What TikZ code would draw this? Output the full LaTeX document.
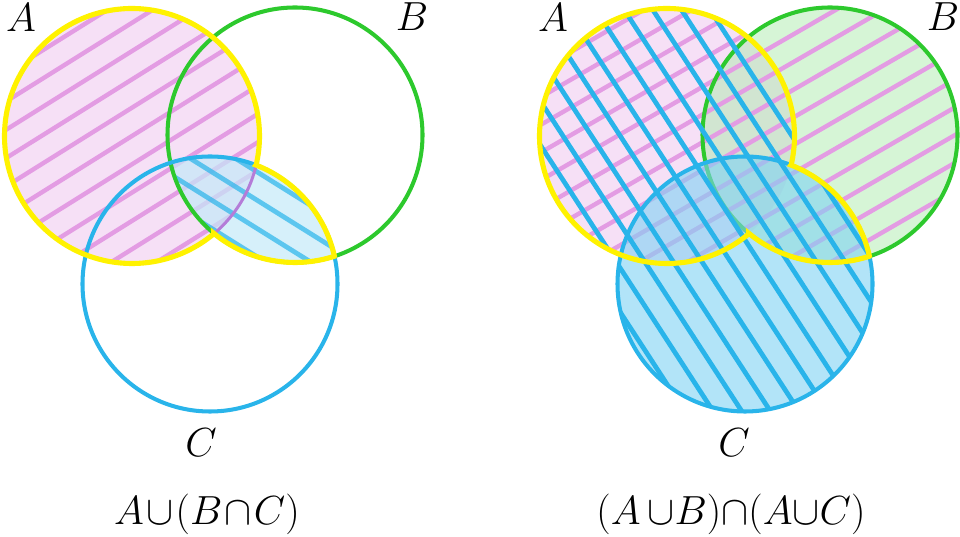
\documentclass[tikz,border=0pt]{standalone}
\usetikzlibrary{calc}
\definecolor{ylw}{HTML}{FFF200}
\definecolor{grn}{HTML}{2DC92D}
\definecolor{blu}{HTML}{29B4EA}
\definecolor{pnk}{HTML}{F6E0F6}
\definecolor{pln}{HTML}{E39CE3}
\definecolor{prp}{HTML}{B47CD8}
\definecolor{lens}{HTML}{C4E9F8}
\definecolor{gfl}{HTML}{ADEBAD}
\definecolor{cfl}{HTML}{7FD2F3}
\tikzset{
  ring/.style={line width=2.3pt},
  edge/.style={draw=ylw,line width=2.9pt},
  phat/.style={pln,line width=2.5pt},
  bhat/.style={blu,line width=2.7pt},
  lbl/.style={font=\Huge,scale=.93,transform shape,inner sep=0pt},
}
% hatch lines through a point at a given angle, 24 units apart
\newcommand{\hatch}[3]{\foreach \k in {-13,...,13}{\draw[#3] ($(#1)+(#2+90:\k*24)+(#2:-340)$) -- ++(#2:680);}}

\begin{document}
\begin{tikzpicture}[x=0.02cm,y=0.02cm]
\useasboundingbox (0,0) rectangle (960,537);
% left: A u (B n C)
\coordinate (a1) at (132,401);
\coordinate (b1) at (295,402);
\coordinate (c1) at (210,253);
\fill[pnk] (a1) circle[radius=127.5];
\begin{scope}
  \clip (a1) circle[radius=127.5];
  \hatch{a1}{32}{phat}
\end{scope}
\begin{scope}
  \clip (b1) circle[radius=127.5];
  \clip (c1) circle[radius=127.5];
  \fill[lens,opacity=.7] (c1) circle[radius=127.5];
  \hatch{c1}{-32}{bhat,opacity=.7}
\end{scope}
\draw[prp,line width=1.7pt] (a1) circle[radius=127.5];
\draw[ring,grn] (b1) circle[radius=127.5];
\draw[ring,blu] (c1) circle[radius=127.5];
\draw[edge] (c1) ++(68.8:127.5) arc[start angle=68.8,end angle=12.6,radius=127.5]
  -- ($(b1)+(-72:127.5)$) arc[start angle=-72,end angle=-129.6,radius=127.5]
  -- ($(a1)+(-50.1:127.5)$) arc[start angle=-50.1,end angle=-373.2,radius=127.5] -- cycle;
\node[lbl] (la1) at (21,519) {$A$};
\node[lbl] (lb1) at (412,520) {$B$};
\node[lbl] (lc1) at (201,94) {$C$};
\node[lbl,anchor=base] (f1) at (207,12) {$A\mkern1mu{\cup}\mkern1mu(B\mkern1mu{\cap}\mkern1mu C)$};
% right: (A u B) n (A u C)
\coordinate (a2) at (667,401);
\coordinate (b2) at (830,402);
\coordinate (c2) at (745,253);
\fill[pnk] (a2) circle[radius=127.5];
\fill[gfl,opacity=.5] (b2) circle[radius=127.5];
\begin{scope}
  \clip (a2) circle[radius=127.5] (b2) circle[radius=127.5];
  \hatch{c2}{30}{phat}
\end{scope}
\draw[ring,grn] (b2) circle[radius=127.5];
\fill[cfl,opacity=.6] (c2) circle[radius=127.5];
\begin{scope}
  \clip (a2) circle[radius=127.5] (c2) circle[radius=127.5];
  \hatch{c2}{-57}{bhat}
\end{scope}
\draw[ring,blu] (c2) circle[radius=127.5];
\draw[edge] (c2) ++(68.8:127.5) arc[start angle=68.8,end angle=12.6,radius=127.5]
  -- ($(b2)+(-72:127.5)$) arc[start angle=-72,end angle=-129.6,radius=127.5]
  -- ($(a2)+(-50.1:127.5)$) arc[start angle=-50.1,end angle=-373.2,radius=127.5] -- cycle;
\node[lbl] (la2) at (553,519) {$A$};
\node[lbl] (lb2) at (943,520) {$B$};
\node[lbl] (lc2) at (734,94) {$C$};
\node[lbl,anchor=base] (f2) at (731,12) {$(A\,{\cup}B){\cap}(A{\cup}C)$};
\end{tikzpicture}
\end{document}
